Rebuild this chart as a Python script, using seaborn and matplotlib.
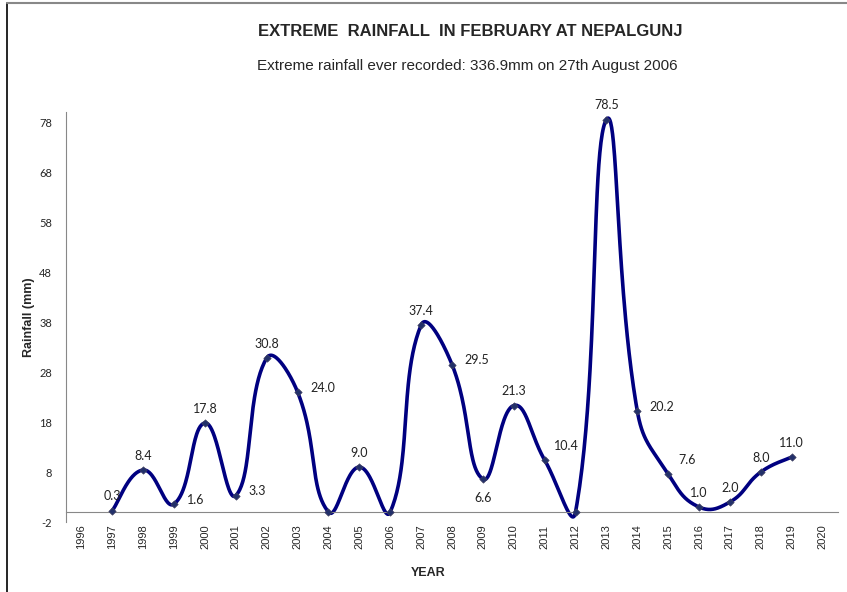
import numpy as np
import pandas as pd
import seaborn as sns
import matplotlib.pyplot as plt
from matplotlib.lines import Line2D

years = [1997, 1998, 1999, 2000, 2001, 2002, 2003, 2004, 2005, 2006, 2007, 2008,
         2009, 2010, 2011, 2012, 2013, 2014, 2015, 2016, 2017, 2018, 2019]
rainfall = [0.3, 8.4, 1.6, 17.8, 3.3, 30.8, 24.0, 0.0, 9.0, 0.0, 37.4, 29.5,
            6.6, 21.3, 10.4, 0.0, 78.5, 20.2, 7.6, 1.0, 2.0, 8.0, 11.0]
axis_years = list(range(1996, 2021))
y_ticks = list(range(-2, 79, 10))

title = 'EXTREME  RAINFALL  IN FEBRUARY AT NEPALGUNJ'
subtitle = 'Extreme rainfall ever recorded: 336.9mm on 27th August 2006'

# label placement (style only): 'a' above, 'r' right, 'b' below
label_pos = ['a', 'a', 'r', 'a', 'r', 'a', 'r', None, 'a', None, 'a', 'r',
             'b', 'a', 'ar', None, 'a', 'r', 'ar', 'a', 'a', 'a', 'a']


def excel_smooth(x, y, sx=31.0, sy=5.0, k=0.45, n=50):
    # Bezier segments, tangents scaled by chord lengths in pixel space (Excel-like)
    p = np.column_stack([np.asarray(x, float) * sx, np.asarray(y, float) * sy])
    m = len(p)
    d = np.linalg.norm(np.diff(p, axis=0), axis=1)
    tang = np.zeros_like(p)
    for i in range(m):
        tang[i] = p[min(i + 1, m - 1)] - p[max(i - 1, 0)]
    t = np.linspace(0, 1, n)[:, None]
    xs, ys = [], []
    for i in range(m - 1):
        dp = d[i - 1] if i > 0 else d[i]
        dn = d[i + 1] if i < m - 2 else d[i]
        c1 = p[i] + tang[i] * k * d[i] / (dp + d[i])
        c2 = p[i + 1] - tang[i + 1] * k * d[i] / (d[i] + dn)
        b = (1 - t) ** 3 * p[i] + 3 * (1 - t) ** 2 * t * c1 + 3 * (1 - t) * t ** 2 * c2 + t ** 3 * p[i + 1]
        xs.append(b[:, 0] / sx)
        ys.append(b[:, 1] / sy)
    return np.concatenate(xs), np.concatenate(ys)


df = pd.DataFrame({'year': years, 'rain': rainfall})
cx, cy = excel_smooth(years, rainfall)
curve = pd.DataFrame({'year': cx, 'rain': cy})

sns.set_style('white')
plt.rcParams['font.family'] = ['Liberation Sans', 'DejaVu Sans']

fig = plt.figure(figsize=(8.47, 5.92), dpi=100)
ax = fig.add_axes([0.0779, 0.1182, 0.9115, 0.6926])
ax.spines['bottom'].set_position(('data', 0))

navy = '#000080'
sns.lineplot(data=curve, x='year', y='rain', ax=ax, color=navy, linewidth=2.6,
             sort=False, estimator=None)
for ln in ax.lines:
    ln.set_clip_on(False)
sns.scatterplot(data=df, x='year', y='rain', ax=ax, marker='D', s=14,
                color='#22306a', edgecolor='#404060', linewidth=0.5, zorder=3,
                clip_on=False)

for yr, v, pos in zip(years, rainfall, label_pos):
    if pos is None:
        continue
    if pos == 'a':
        off, ha, va = (0, 6), 'center', 'bottom'
    elif pos == 'r':
        off, ha, va = (9, 3), 'left', 'center'
    elif pos == 'ar':
        off, ha, va = (7, 10), 'left', 'center'
    else:
        off, ha, va = (0, -9), 'center', 'top'
    ax.annotate(f'{v:.1f}', (yr, v), xytext=off, textcoords='offset points',
                ha=ha, va=va, fontsize=9, family=['Lato', 'DejaVu Sans'], color='#222222')

ax.set_xlim(1995.5, 2020.5)
ax.set_ylim(-2, 80)
ax.set_yticks(y_ticks)
ax.set_yticklabels([str(t) for t in y_ticks], fontsize=8, family=['Lato', 'DejaVu Sans'])
ax.set_xticks(axis_years)
ax.set_xticklabels([str(t) for t in axis_years], rotation=90, fontsize=8)
ax.set_xticks(np.arange(1995.5, 2021, 1), minor=True)
ax.tick_params(axis='x', which='major', length=0, pad=9)
ax.tick_params(axis='x', which='minor', length=4, color='#888888', direction='out')
ax.tick_params(axis='y', length=4, color='#888888', direction='out', pad=6)

for s in ['top', 'right']:
    ax.spines[s].set_visible(False)
ax.spines['bottom'].set_color('#888888')
ax.spines['left'].set_color('#888888')
ax.set_xlabel('')
ax.set_ylabel('Rainfall (mm)', fontsize=9, fontweight='bold')
ax.yaxis.set_label_coords(-0.04, 0.5)

fig.text(0.555, 0.946, title, ha='center', va='center', fontsize=12, fontweight='bold')
fig.text(0.552, 0.889, subtitle, ha='center', va='center', fontsize=11)
fig.text(0.505, 0.032, 'YEAR', ha='center', va='center', fontsize=9, fontweight='bold')

fig.add_artist(Line2D([0.0083, 0.0083], [0, 0.995], transform=fig.transFigure,
                      color='black', linewidth=1.2))
fig.add_artist(Line2D([0.0083, 1], [0.995, 0.995], transform=fig.transFigure,
                      color='#888888', linewidth=1.5))

fig.savefig('out.png', dpi=100)
